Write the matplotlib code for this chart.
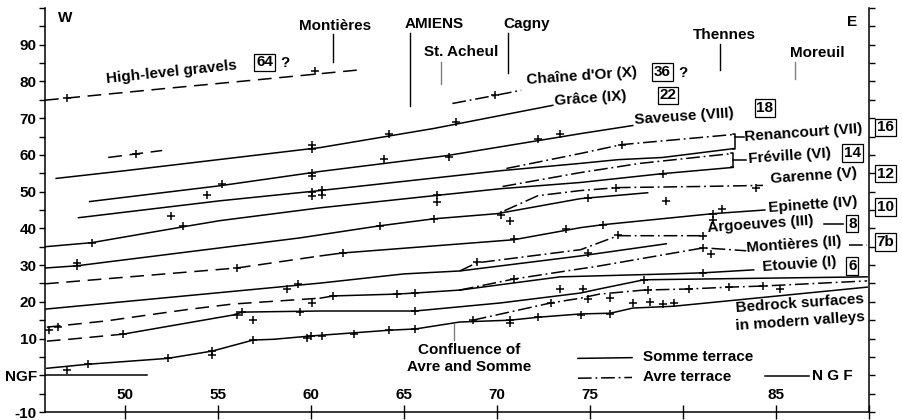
import matplotlib
matplotlib.use("Agg")
import matplotlib.pyplot as plt

plt.rcParams['font.family'] = ['Liberation Sans', 'DejaVu Sans']
plt.rcParams['font.weight'] = 'bold'

# profile: distance (km) vs altitude (m NGF)
hlg_km = [45.7, 52.0, 57.0, 62.5]
hlg_m = [74.9, 78.0, 80.4, 83.1]
chaine_km = [67.6, 69.9, 71.3]
chaine_m = [74.0, 76.2, 77.6]
grace_km = [46.3, 50.0, 60.5, 66.6, 73.0]
grace_m = [53.6, 55.7, 62.0, 67.2, 73.5]
short_km = [49.1, 52.0]
short_m = [59.3, 61.2]
saveuse_km = [48.1, 55.1, 60.5, 67.3, 74.5, 77.3]
saveuse_m = [47.3, 51.6, 55.5, 59.8, 65.8, 68.0]
renan_km = [47.5, 55.1, 60.5, 70.2, 74.5, 76.5, 78.9, 82.7]
renan_m = [42.9, 47.5, 50.3, 55.7, 57.7, 58.7, 59.3, 61.7]
renan_avre_km = [70.5, 74.5, 76.7, 82.8]
renan_avre_m = [56.3, 60.4, 62.8, 65.6]
frev_km = [45.7, 48.2, 53.1, 55.1, 60.5, 66.8, 70.2, 74.5, 78.9, 82.7]
frev_m = [35.0, 36.1, 40.4, 42.1, 45.6, 49.0, 50.8, 52.5, 54.9, 56.6]
frev_avre_km = [70.3, 74.5, 77.7, 82.7]
frev_avre_m = [51.4, 55.2, 57.7, 60.4]
garenne_km = [45.7, 47.4, 59.4, 63.7, 66.6, 70.0, 74.5, 78.1]
garenne_m = [29.2, 29.8, 37.4, 40.7, 42.6, 44.0, 48.1, 49.7]
garenne_avre_km = [70.4, 72.2, 74.5, 76.5, 80.9, 84.3]
garenne_avre_m = [44.8, 48.9, 50.3, 51.1, 51.4, 51.7]
epi_dash_km = [45.7, 56.0, 60.5]
epi_dash_m = [24.9, 29.2, 32.5]
epi_km = [60.5, 61.7, 70.9, 74.5, 75.7, 81.6, 84.4]
epi_m = [32.5, 33.3, 36.9, 40.2, 41.0, 44.0, 45.0]
arg_km = [45.7, 60.5, 65.0, 68.0, 74.5, 79.1]
arg_m = [18.0, 25.1, 27.6, 28.4, 32.5, 35.8]
arg_avre_km = [68.0, 68.9, 74.5, 76.5, 79.7, 81.2]
arg_avre_m = [28.4, 30.6, 34.2, 38.0, 38.0, 38.0]
mont_dash_km = [45.8, 49.0, 50.8, 53.5, 55.8, 60.5]
mont_dash_m = [13.1, 14.8, 16.1, 18.0, 19.4, 21.0]
mont_km = [60.5, 61.2, 64.6, 65.6, 68.0]
mont_m = [21.0, 21.6, 22.1, 22.4, 23.2]
mont_avre_km = [68.0, 70.9, 74.5, 75.2, 81.1, 83.4]
mont_avre_m = [23.2, 26.2, 29.0, 29.5, 34.7, 33.9]
etouvie_km = [68.0, 73.4, 79.3, 81.1, 83.8]
etouvie_m = [23.2, 26.8, 27.6, 27.9, 28.7]
bed1_dash_km = [45.8, 47.0, 49.9]
bed1_dash_m = [9.3, 9.8, 11.2]
bed1_km = [49.9, 55.8, 56.3, 60.5, 65.6, 70.2, 74.5, 75.5, 77.9, 89.9]
bed1_m = [11.2, 16.4, 17.2, 17.5, 17.5, 19.7, 22.4, 23.5, 26.0, 26.8]
bed_avre_km = [68.7, 72.9, 74.5, 75.5, 77.9, 80.3, 82.5, 84.3, 89.9]
bed_avre_m = [15.0, 19.7, 21.0, 22.1, 23.2, 23.5, 24.0, 24.3, 25.7]
bed2_km = [45.8, 48.0, 52.3, 54.7, 56.9, 58.0, 60.0, 64.3, 65.6, 68.0, 70.7,
           72.2, 74.5, 76.1, 77.3, 79.5, 89.9]
bed2_m = [1.9, 3.0, 4.6, 6.6, 9.6, 9.8, 10.7, 12.3, 12.6, 14.5, 15.0,
          15.8, 16.7, 16.9, 18.3, 18.8, 24.0]
ngf_km = [45.7, 51.2]
ngf_m = [0, 0]

# sample points (+)
pts_km = [46.9, 60.2, 69.9, 50.6, 60.05, 60.05, 64.2, 67.8, 55.2, 54.4, 60.05, 60.05,
          63.9, 67.4, 72.2, 73.4, 52.5, 60.05, 60.05, 60.6, 60.6, 76.7, 48.2, 53.1,
          66.8, 66.8, 78.9, 47.4, 47.4, 63.7, 66.6, 70.2, 70.7, 76.4, 83.9, 74.9,
          79.1, 56.0, 61.7, 70.9, 73.7, 75.7, 81.6, 82.1, 81.6, 58.7, 59.3, 68.9,
          76.5, 81.1, 45.9, 46.4, 61.2, 64.6, 65.6, 70.9, 74.9, 81.1, 81.5, 81.1,
          77.9, 49.9, 56.0, 56.3, 56.9, 59.4, 60.05, 65.6, 68.7, 72.9, 78.1, 80.3,
          82.5, 84.3, 73.4, 74.6, 74.9, 76.1, 48.0, 46.9, 52.3, 54.7, 54.7, 56.9,
          60.0, 59.8, 60.6, 62.3, 64.2, 65.6, 70.7, 70.7, 72.2, 74.5, 76.1, 77.3,
          78.2, 78.9, 79.5, 85.2]
pts_m = [75.4, 82.8, 76.2, 60.3, 62.7, 61.5, 65.8, 68.9, 52.2, 49.2, 55.0, 54.2,
         59.0, 59.3, 64.2, 65.8, 43.4, 50.0, 48.9, 50.5, 49.2, 62.8, 36.1, 40.6,
         49.0, 47.2, 54.9, 29.8, 30.6, 40.7, 42.6, 43.6, 42.0, 51.1, 51.0, 48.4,
         47.4, 29.2, 33.3, 37.2, 39.9, 41.0, 44.0, 45.2, 42.3, 23.5, 24.9, 30.9,
         38.3, 38.0, 12.3, 13.1, 21.6, 22.1, 22.4, 26.2, 33.3, 34.7, 33.1, 27.9,
         26.0, 11.2, 16.4, 17.2, 15.0, 17.2, 19.7, 17.5, 15.0, 19.7, 23.2, 23.5,
         24.0, 24.3, 23.5, 23.5, 20.8, 21.0, 3.0, 1.4, 4.6, 6.6, 5.5, 9.6,
         10.7, 10.1, 10.7, 11.2, 12.3, 12.6, 15.0, 14.2, 15.8, 16.4, 16.7, 19.7,
         19.9, 19.4, 19.7, 23.5]

x_ticks = [50, 55, 60, 65, 70, 75, 80, 85, 90]
x_labels = ['50', '55', '60', '65', '70', '75', '', '85', '']
y_ticks = list(range(-10, 101, 5))
y_labels = {-10: '-10', 0: 'NGF', 10: '10', 20: '20', 30: '30', 40: '40',
            50: '50', 60: '60', 70: '70', 80: '80', 90: '90'}

# places along the valley
places = ['Montières', 'AMIENS', 'St. Acheul', 'Cagny', 'Thennes', 'Moreuil']
place_km = [61.2, 65.3, 67.0, 70.6, 82.0, 86.0]
place_txt_km = [61.3, 66.6, 68.1, 71.6, 82.2, 87.2]
place_txt_m = [95.1, 95.6, 88.0, 95.6, 92.6, 87.7]
place_top = [92.8, 93.2, 85.2, 93.2, 90.2, 85.2]
place_bot = [85.2, 73.2, 79.2, 82.2, 83.1, 80.6]
place_col = ['black', 'black', 'grey', 'black', 'black', 'grey']

SOLID = '-'
AVRE = (0, (9, 2.5, 1.2, 2.5))
DASH = (0, (9, 5))
FS = 11

fig = plt.figure(figsize=(9.03, 4.2), dpi=100)
ax = fig.add_axes([45 / 903, 8 / 420, 824 / 903, 404 / 420])
ax.set_xlim(45.7, 90)
ax.set_ylim(-10, 100)

lw = 1.1
ax.plot(hlg_km, hlg_m, color='black', lw=lw, ls=DASH)
ax.plot(chaine_km, chaine_m, color='black', lw=lw, ls=AVRE)
ax.plot(grace_km, grace_m, color='black', lw=lw, ls=SOLID)
ax.plot(short_km, short_m, color='black', lw=lw, ls=DASH)
ax.plot(saveuse_km, saveuse_m, color='black', lw=lw, ls=SOLID)
ax.plot(renan_km, renan_m, color='black', lw=lw, ls=SOLID)
ax.plot(renan_avre_km, renan_avre_m, color='black', lw=lw, ls=AVRE)
ax.plot(frev_km, frev_m, color='black', lw=lw, ls=SOLID)
ax.plot(frev_avre_km, frev_avre_m, color='black', lw=lw, ls=AVRE)
ax.plot(garenne_km, garenne_m, color='black', lw=lw, ls=SOLID)
ax.plot(garenne_avre_km, garenne_avre_m, color='black', lw=lw, ls=AVRE)
ax.plot(epi_dash_km, epi_dash_m, color='black', lw=lw, ls=DASH)
ax.plot(epi_km, epi_m, color='black', lw=lw, ls=SOLID)
ax.plot(arg_km, arg_m, color='black', lw=lw, ls=SOLID)
ax.plot(arg_avre_km, arg_avre_m, color='black', lw=lw, ls=AVRE)
ax.plot(mont_dash_km, mont_dash_m, color='black', lw=lw, ls=DASH)
ax.plot(mont_km, mont_m, color='black', lw=lw, ls=SOLID)
ax.plot(mont_avre_km, mont_avre_m, color='black', lw=lw, ls=AVRE)
ax.plot(etouvie_km, etouvie_m, color='black', lw=lw, ls=SOLID)
ax.plot(bed1_dash_km, bed1_dash_m, color='black', lw=lw, ls=DASH)
ax.plot(bed1_km, bed1_m, color='black', lw=lw, ls=SOLID)
ax.plot(bed_avre_km, bed_avre_m, color='black', lw=lw, ls=AVRE)
ax.plot(bed2_km, bed2_m, color='black', lw=lw, ls=SOLID)
ax.plot(ngf_km, ngf_m, color='black', lw=lw)
ax.plot(pts_km, pts_m, ls='none', marker='+', color='black', ms=6, mew=1.1)

# brackets for Renancourt / Fréville
ax.plot([82.7, 82.8, 82.8, 82.7], [61.7, 61.7, 65.6, 65.6], color='black', lw=lw)
ax.plot([82.8, 83.3], [65.0, 65.0], color='black', lw=lw)
ax.plot([82.6, 82.7, 82.7, 82.6], [56.6, 56.6, 60.4, 60.4], color='black', lw=lw)
ax.plot([82.7, 83.4], [58.5, 58.5], color='black', lw=lw)

# place names
for name, k, tk, tm, top, bot, c in zip(places, place_km, place_txt_km, place_txt_m,
                                        place_top, place_bot, place_col):
    ax.text(tk, tm, name, ha='center', va='center', fontsize=FS)
    ax.plot([k, k], [bot, top], color=c, lw=1)

ax.text(46.8, 97.3, 'W', ha='center', va='center', fontsize=FS)
ax.text(89.1, 96.2, 'E', ha='center', va='center', fontsize=FS)

box = dict(boxstyle='square,pad=0.12', fc='white', ec='black', lw=0.9)
kw = dict(fontsize=FS, va='center', rotation_mode='anchor')

ax.text(49.0, 80.6, 'High-level gravels', ha='left', rotation=6, **kw)
ax.text(57.5, 85.2, '64', ha='center', bbox=box, **kw)
ax.text(58.6, 85.0, '?', ha='center', **kw)
ax.text(71.6, 80.4, "Chaîne d'Or (X)", ha='left', rotation=4, **kw)
ax.text(78.9, 82.5, '36', ha='center', bbox=box, **kw)
ax.text(80.0, 82.3, '?', ha='center', **kw)
ax.text(73.1, 74.8, 'Grâce (IX)', ha='left', rotation=4, **kw)
ax.text(79.2, 76.2, '22', ha='center', bbox=box, **kw)
ax.text(77.4, 69.6, 'Saveuse (VIII)', ha='left', rotation=4, **kw)
ax.text(84.4, 72.7, '18', ha='center', bbox=box, **kw)
ax.text(83.3, 65.0, 'Renancourt (VII)', ha='left', rotation=4, **kw)
ax.text(90.9, 67.5, '16', ha='center', bbox=box, **kw)
ax.text(83.5, 59.0, 'Fréville (VI)', ha='left', rotation=4, **kw)
ax.text(89.1, 60.5, '14', ha='center', bbox=box, **kw)
ax.text(84.7, 53.5, 'Garenne (V)', ha='left', rotation=4, **kw)
ax.text(90.9, 54.9, '12', ha='center', bbox=box, **kw)
ax.text(84.6, 45.6, 'Epinette (IV)', ha='left', rotation=4, **kw)
ax.text(90.9, 45.9, '10', ha='center', bbox=box, **kw)
ax.text(81.3, 40.0, 'Argoeuves (III)', ha='left', rotation=4, **kw)
ax.plot([87.6, 88.6], [41.1, 41.1], color='black', lw=lw)
ax.text(89.1, 41.3, '8', ha='center', bbox=box, **kw)
ax.text(83.4, 34.7, 'Montières (II)', ha='left', rotation=4, **kw)
ax.plot([88.9, 89.9], [35.6, 35.6], color='black', lw=lw, ls=AVRE)
ax.text(90.9, 36.3, '7b', ha='center', bbox=box, **kw)
ax.text(84.3, 29.6, 'Etouvie (I)', ha='left', rotation=4, **kw)
ax.text(89.1, 29.8, '6', ha='center', bbox=box, **kw)
ax.text(86.3, 19.4, 'Bedrock surfaces', ha='center', rotation=4, **kw)
ax.text(86.3, 14.6, 'in modern valleys', ha='center', rotation=4, **kw)

ax.text(68.5, 6.8, 'Confluence of', ha='center', va='center', fontsize=FS)
ax.text(68.5, 2.2, 'Avre and Somme', ha='center', va='center', fontsize=FS)
ax.plot([67.7, 67.7], [9.6, 14.0], color='grey', lw=1)

# key
ax.plot([74.35, 77.26], [4.6, 4.8], color='black', lw=lw)
ax.text(77.85, 4.9, 'Somme terrace', ha='left', va='center', fontsize=FS)
ax.plot([74.35, 77.26], [-0.8, -0.6], color='black', lw=lw, ls=AVRE)
ax.text(77.85, -0.5, 'Avre terrace', ha='left', va='center', fontsize=FS)
ax.plot([84.4, 86.8], [-0.3, -0.3], color='black', lw=lw)
ax.text(86.95, -0.3, 'N G F', ha='left', va='center', fontsize=FS)

# axes
ax.spines['top'].set_visible(False)
for s in ['left', 'right', 'bottom']:
    ax.spines[s].set_linewidth(1.1)
ax.set_yticks(y_ticks)
ax.set_yticklabels([y_labels.get(v, '') for v in y_ticks], fontsize=FS, fontweight='bold')
ax.tick_params(axis='y', which='both', direction='out', length=4, width=1,
               left=True, right=True, labelleft=True, labelright=False, pad=2)
ax.set_xticks(x_ticks)
ax.set_xticklabels([])
ax.tick_params(axis='x', direction='inout', length=10, width=1)
for k, lab in zip(x_ticks, x_labels):
    ax.text(k, -5.3, lab, ha='center', va='center', fontsize=FS)

fig.savefig('out.png', dpi=100)
